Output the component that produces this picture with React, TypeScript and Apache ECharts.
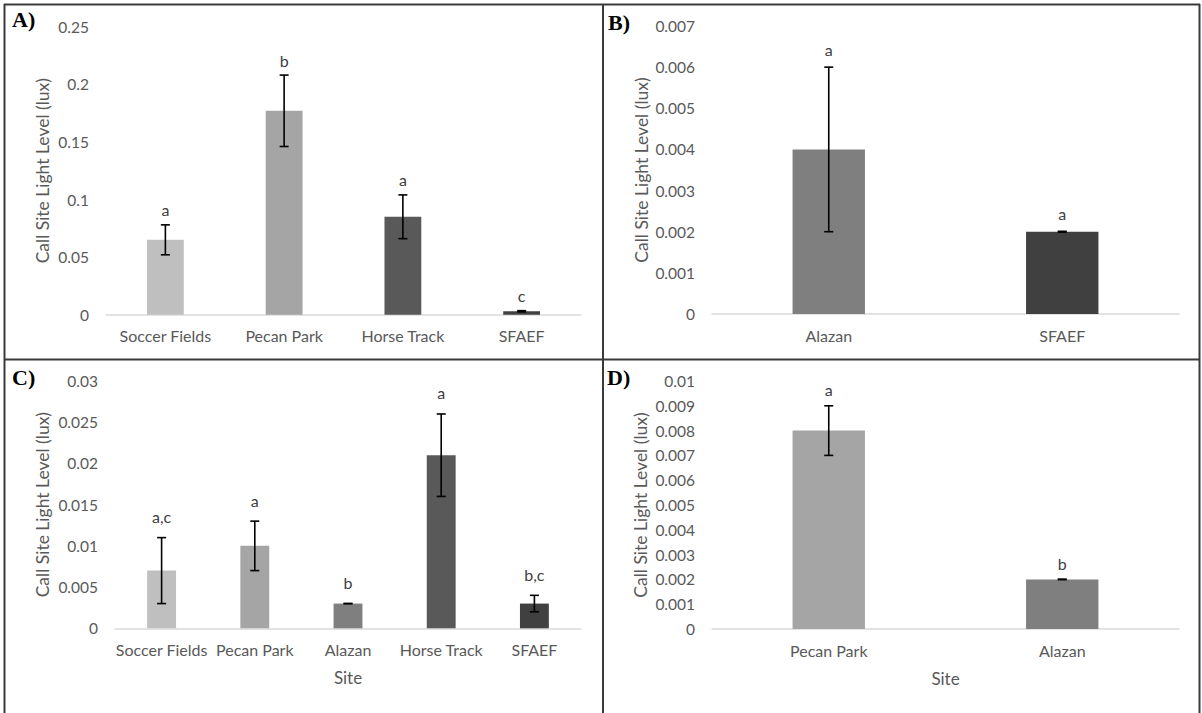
import React, { useEffect, useRef } from "react";
import * as echarts from "echarts";

// ---------- DATA ----------
const catsA = ["Soccer Fields", "Pecan Park", "Horse Track", "SFAEF"];
const valsA = [0.065, 0.177, 0.085, 0.003];
const errA = [0.013, 0.031, 0.019, 0.0005];
const lettersA = ["a", "b", "a", "c"];
const colorsA = ["#bfbfbf", "#a5a5a5", "#595959", "#404040"];

const catsB = ["Alazan", "SFAEF"];
const valsB = [0.004, 0.002];
const errB = [0.002, 0.00001];
const lettersB = ["a", "a"];
const colorsB = ["#7f7f7f", "#404040"];

const catsC = ["Soccer Fields", "Pecan Park", "Alazan", "Horse Track", "SFAEF"];
const valsC = [0.007, 0.01, 0.003, 0.021, 0.003];
const errC = [0.004, 0.003, 0.00002, 0.005, 0.001];
const lettersC = ["a,c", "a", "b", "a", "b,c"];
const colorsC = ["#bfbfbf", "#a5a5a5", "#7f7f7f", "#595959", "#404040"];

const catsD = ["Pecan Park", "Alazan"];
const valsD = [0.008, 0.002];
const errD = [0.001, 0.00001];
const lettersD = ["a", "b"];
const colorsD = ["#a5a5a5", "#7f7f7f"];

const yMaxes = [0.25, 0.007, 0.03, 0.01];
const yIntervals = [0.05, 0.001, 0.005, 0.001];
const panelLabels = ["A)", "B)", "C)", "D)"];
const yTitle = "Call Site Light Level (lux)";
const xTitle = "Site";

// ---------- LAYOUT ----------
const FONT = "Lato, 'Liberation Sans', sans-serif";
const grids = [
  { left: 106, top: 26.7, width: 475, height: 288 },
  { left: 712, top: 26, width: 467, height: 288 },
  { left: 115, top: 381, width: 466, height: 247.3 },
  { left: 712, top: 381, width: 467, height: 248 },
];
const yNameGaps = [55, 62, 64, 63];
const letterOffsets = [15, 18, 21, 16];
const showXTitle = [false, false, true, true];
const labelPos = [
  { x: 12, y: 8 },
  { x: 608, y: 11 },
  { x: 12, y: 366 },
  { x: 607, y: 366 },
];

const panels = [
  { cats: catsA, vals: valsA, err: errA, letters: lettersA, colors: colorsA },
  { cats: catsB, vals: valsB, err: errB, letters: lettersB, colors: colorsB },
  { cats: catsC, vals: valsC, err: errC, letters: lettersC, colors: colorsC },
  { cats: catsD, vals: valsD, err: errD, letters: lettersD, colors: colorsD },
];

function buildOption() {
  const grid = grids.map((g) => ({ ...g, containLabel: false }));
  const xAxis = panels.map((p, i) => ({
    type: "category",
    gridIndex: i,
    data: p.cats,
    axisLine: { show: true, lineStyle: { color: "#d9d9d9", width: 1.5 } },
    axisTick: { show: false },
    axisLabel: { color: "#595959", fontSize: 16, fontFamily: FONT, margin: 13, interval: 0 },
    name: showXTitle[i] ? xTitle : "",
    nameLocation: "middle",
    nameGap: 41,
    nameTextStyle: { color: "#595959", fontSize: 17, fontFamily: FONT },
  }));
  const yAxis = panels.map((p, i) => ({
    type: "value",
    gridIndex: i,
    min: 0,
    max: yMaxes[i],
    interval: yIntervals[i],
    splitLine: { show: false },
    axisLine: { show: false },
    axisTick: { show: false },
    axisLabel: {
      color: "#595959",
      fontSize: 15.5,
      fontFamily: FONT,
      margin: 17,
      formatter: (v: number) => String(parseFloat(v.toFixed(4))),
    },
    name: yTitle,
    nameLocation: "middle",
    nameGap: yNameGaps[i],
    nameTextStyle: { color: "#595959", fontSize: 17.5, fontFamily: FONT },
  }));
  const series: any[] = [];
  panels.forEach((p, i) => {
    series.push({
      type: "bar",
      xAxisIndex: i,
      yAxisIndex: i,
      barWidth: "31%",
      data: p.vals.map((v, k) => ({ value: v, itemStyle: { color: p.colors[k] } })),
    });
    series.push({
      type: "custom",
      xAxisIndex: i,
      yAxisIndex: i,
      z: 10,
      data: p.vals.map((v, k) => [k, v, p.err[k]]),
      renderItem: (params: any, api: any) => {
        const x = api.value(0);
        const v = api.value(1);
        const e = api.value(2);
        const top = api.coord([x, v + e]);
        const bot = api.coord([x, v - e]);
        const cap = 4.5;
        const st = { stroke: "#000", lineWidth: 1.6 };
        return {
          type: "group",
          children: [
            { type: "line", shape: { x1: top[0], y1: top[1], x2: bot[0], y2: bot[1] }, style: st },
            { type: "line", shape: { x1: top[0] - cap, y1: top[1], x2: top[0] + cap, y2: top[1] }, style: st },
            { type: "line", shape: { x1: bot[0] - cap, y1: bot[1], x2: bot[0] + cap, y2: bot[1] }, style: st },
            {
              type: "text",
              style: {
                text: p.letters[params.dataIndex],
                x: top[0],
                y: top[1] - letterOffsets[i],
                align: "center",
                verticalAlign: "middle",
                fill: "#404040",
                fontSize: 16,
                fontFamily: FONT,
              },
            },
          ],
        };
      },
    });
  });

  const bc = "#3a3a3a";
  const graphic: any[] = [
    { type: "line", shape: { x1: 4, y1: 4.5, x2: 1200, y2: 4.5 }, style: { stroke: bc, lineWidth: 2 } },
    { type: "line", shape: { x1: 4, y1: 359.5, x2: 1200, y2: 359.5 }, style: { stroke: bc, lineWidth: 2 } },
    { type: "line", shape: { x1: 4.5, y1: 4, x2: 4.5, y2: 713 }, style: { stroke: bc, lineWidth: 2 } },
    { type: "line", shape: { x1: 603, y1: 4, x2: 603, y2: 713 }, style: { stroke: bc, lineWidth: 2 } },
    { type: "line", shape: { x1: 1199.5, y1: 4, x2: 1199.5, y2: 713 }, style: { stroke: bc, lineWidth: 2 } },
  ];
  panelLabels.forEach((t, i) => {
    graphic.push({
      type: "text",
      x: labelPos[i].x,
      y: labelPos[i].y,
      style: {
        text: t,
        fill: "#000",
        fontSize: 22,
        fontWeight: "bold",
        fontFamily: "'Liberation Serif', 'DejaVu Serif', serif",
        verticalAlign: "top",
      },
    });
  });

  return {
    animation: false,
    backgroundColor: "#ffffff",
    grid,
    xAxis,
    yAxis,
    series,
    graphic,
  };
}

export default function App() {
  const ref = useRef<HTMLDivElement>(null);
  useEffect(() => {
    if (!ref.current) return;
    const chart = echarts.init(ref.current, undefined, { renderer: "svg" });
    chart.setOption(buildOption() as any);
    return () => chart.dispose();
  }, []);
  return (
    <div
      ref={ref}
      style={{ position: "fixed", left: 0, top: 0, width: 1202, height: 713, background: "#fff" }}
    />
  );
}
